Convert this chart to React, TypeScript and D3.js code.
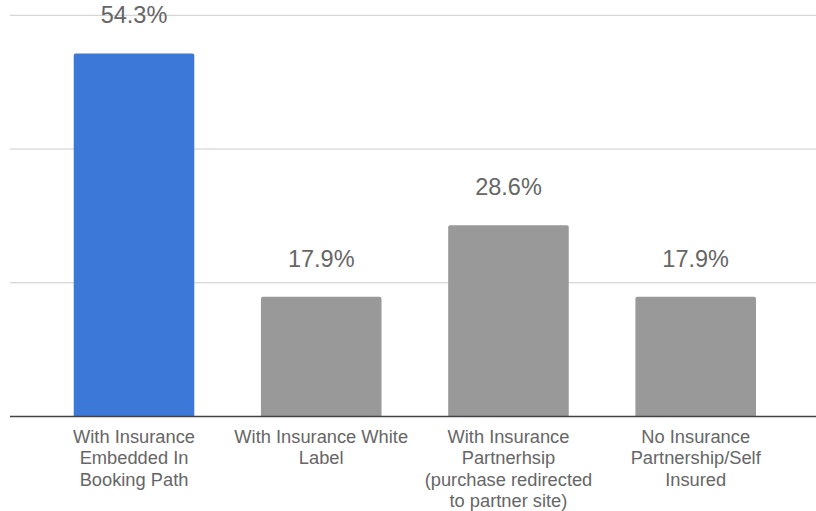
import React from "react";
import * as d3 from "d3";

const categories = [
  "With Insurance Embedded In Booking Path",
  "With Insurance White Label",
  "With Insurance Partnerhsip (purchase redirected to partner site)",
  "No Insurance Partnership/Self Insured",
];
const categoryLines = [
  ["With Insurance", "Embedded In", "Booking Path"],
  ["With Insurance White", "Label"],
  ["With Insurance", "Partnerhsip", "(purchase redirected", "to partner site)"],
  ["No Insurance", "Partnership/Self", "Insured"],
];
const values = [54.3, 17.9, 28.6, 17.9];
const valueLabels = ["54.3%", "17.9%", "28.6%", "17.9%"];
const gridTicks = [0, 20, 40, 60];
const highlightIndex = 0;

const W = 816;
const H = 511;
const FONT = "Arial, 'Liberation Sans', Helvetica, sans-serif";

export default function App() {
  const x = d3
    .scaleBand<string>()
    .domain(categories)
    .range([40.4, 789.3])
    .paddingInner(0.356)
    .paddingOuter(0.178);
  const y = d3.scaleLinear().domain([0, 60]).range([416.5, 15.3]);

  return (
    <svg
      width={W}
      height={H}
      style={{ position: "absolute", left: 0, top: 0, background: "#fff" }}
      fontFamily={FONT}
    >
      {gridTicks
        .filter((t) => t !== 0)
        .map((t) => (
          <line key={t} x1={10} x2={W} y1={y(t)} y2={y(t)} stroke="#cccccc" strokeWidth={1} />
        ))}
      {categories.map((c, i) => {
        const bx = x(c)!;
        const top = y(values[i]);
        const h = y(0) - top;
        const r = 2;
        const bw = x.bandwidth();
        const path = `M${bx},${y(0)} L${bx},${top + r} Q${bx},${top} ${bx + r},${top} L${bx + bw - r},${top} Q${bx + bw},${top} ${bx + bw},${top + r} L${bx + bw},${y(0)} Z`;
        return (
          <g key={c}>
            <path d={h > 0 ? path : ""} fill={i === highlightIndex ? "#3c78d8" : "#999999"} />
            <text
              x={bx + bw / 2}
              y={top - 30}
              textAnchor="middle"
              fontSize={23.5}
              fill="#666666"
            >
              {valueLabels[i]}
            </text>
            {categoryLines[i].map((ln, j) => (
              <text
                key={j}
                x={bx + bw / 2}
                y={443 + j * 21.3}
                textAnchor="middle"
                fontSize={18.3}
                fill="#666666"
              >
                {ln}
              </text>
            ))}
          </g>
        );
      })}
      <line x1={10} x2={W} y1={y(0)} y2={y(0)} stroke="#444444" strokeWidth={1.5} />
    </svg>
  );
}
